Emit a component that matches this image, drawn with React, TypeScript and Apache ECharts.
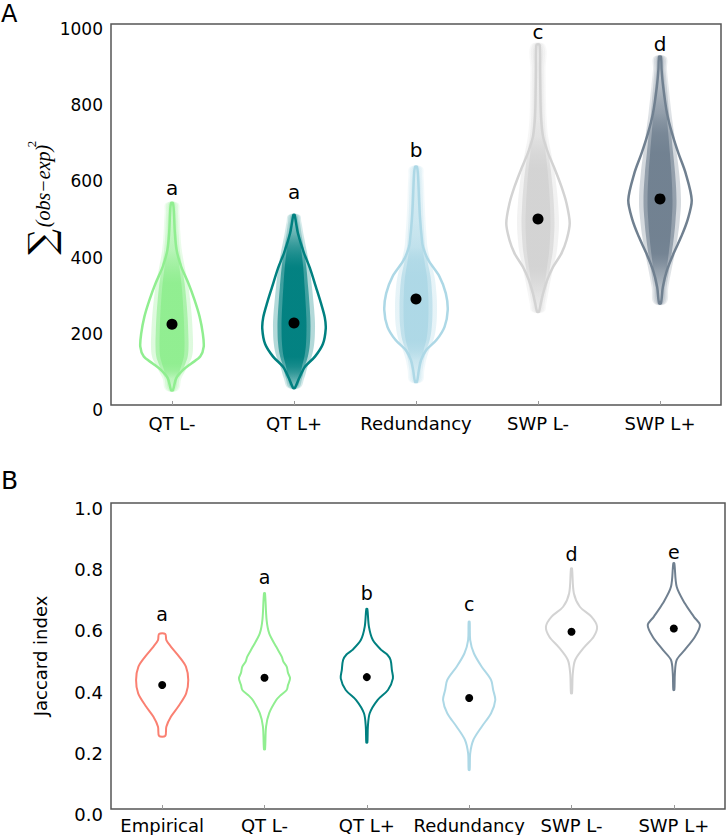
import React, { useEffect, useRef } from "react";
import * as echarts from "echarts";

// ---------- Panel A data ----------
const categoriesA = ["QT L-", "QT L+", "Redundancy", "SWP L-", "SWP L+"];
const meansA = [212, 215, 278, 488, 541];
const lettersA = ["a", "a", "b", "c", "d"];
const letterValuesA = [570, 560, 670, 979, 947];
const yTicksA = [0, 200, 400, 600, 800, 1000];

// [value, relative density (1 = widest)]
const violinA_QTLminus = [
  [39, 0.03], [70, 0.13], [92, 0.35], [109, 0.61], [127, 0.89], [153, 1.0],
  [188, 0.97], [232, 0.87], [276, 0.71], [319, 0.52], [363, 0.29], [407, 0.145],
  [451, 0.09], [504, 0.06], [530, 0.03],
];
const violinA_QTLplus = [
  [45, 0.03], [70, 0.16], [100, 0.34], [127, 0.66], [160, 0.91], [200, 1.0],
  [230, 0.97], [270, 0.84], [310, 0.69], [360, 0.5], [400, 0.31], [450, 0.125],
  [480, 0.06], [499, 0.02],
];
const violinA_Redundancy = [
  [61, 0.03], [92, 0.09], [118, 0.16], [144, 0.32], [171, 0.65], [205, 0.9],
  [249, 1.0], [293, 0.94], [337, 0.74], [380, 0.39], [415, 0.22], [440, 0.18],
  [486, 0.13], [530, 0.1], [600, 0.065], [625, 0.03],
];
const violinA_SWPLminus = [
  [245, 0.03], [268, 0.09], [293, 0.16], [328, 0.29], [363, 0.48], [398, 0.74],
  [433, 0.9], [477, 1.0], [529, 0.9], [573, 0.74], [617, 0.54], [661, 0.32],
  [704, 0.16], [748, 0.1], [792, 0.08], [879, 0.065], [945, 0.05],
];
const violinA_SWPLplus = [
  [267, 0.03], [310, 0.09], [354, 0.22], [398, 0.43], [442, 0.67], [486, 0.87],
  [538, 1.0], [608, 0.81], [661, 0.58], [713, 0.38], [766, 0.22], [835, 0.1],
  [880, 0.05], [914, 0.03],
];
const violinsA = [violinA_QTLminus, violinA_QTLplus, violinA_Redundancy, violinA_SWPLminus, violinA_SWPLplus];

// ---------- Panel B data ----------
const categoriesB = ["Empirical", "QT L-", "QT L+", "Redundancy", "SWP L-", "SWP L+"];
const meansB = [0.405, 0.429, 0.431, 0.363, 0.579, 0.59];
const lettersB = ["a", "a", "b", "c", "d", "e"];
const letterValuesB = [0.637, 0.757, 0.707, 0.669, 0.832, 0.841];
const yTicksB = [0, 0.2, 0.4, 0.6, 0.8, 1.0];

const violinB_Empirical = [
  [0.2386, 0.12], [0.269, 0.16], [0.302, 0.34], [0.334, 0.61], [0.378, 0.92], [0.4216, 1.0],
  [0.465, 0.91], [0.498, 0.65], [0.53, 0.34], [0.552, 0.16], [0.572, 0.12],
];
const violinB_QTLminus = [
  [0.195, 0.02], [0.269, 0.06], [0.313, 0.18], [0.356, 0.45], [0.372, 0.62], [0.389, 0.85],
  [0.405, 0.9], [0.427, 0.98], [0.445, 0.9], [0.465, 0.85], [0.482, 0.72], [0.498, 0.66],
  [0.53, 0.45], [0.574, 0.18], [0.618, 0.08], [0.705, 0.02],
];
const violinB_QTLplus = [
  [0.217, 0.02], [0.269, 0.04], [0.313, 0.11], [0.356, 0.41], [0.389, 0.81], [0.427, 1.0],
  [0.454, 0.96], [0.487, 0.91], [0.505, 0.78], [0.52, 0.55], [0.552, 0.23], [0.596, 0.08],
  [0.654, 0.02],
];
const violinB_Redundancy = [
  [0.1275, 0.02], [0.182, 0.04], [0.2255, 0.16], [0.269, 0.48], [0.313, 0.84], [0.356, 1.0],
  [0.389, 0.92], [0.4216, 0.84], [0.465, 0.48], [0.509, 0.18], [0.552, 0.04], [0.612, 0.02],
];
const violinB_SWPLminus = [
  [0.378, 0.02], [0.443, 0.05], [0.487, 0.14], [0.53, 0.5], [0.563, 0.85], [0.596, 0.98],
  [0.628, 0.77], [0.661, 0.32], [0.705, 0.09], [0.786, 0.02],
];
const violinB_SWPLplus = [
  [0.389, 0.02], [0.443, 0.04], [0.487, 0.11], [0.52, 0.42], [0.563, 0.81], [0.601, 1.0],
  [0.628, 0.77], [0.672, 0.42], [0.726, 0.11], [0.803, 0.02],
];
const violinsB = [violinB_Empirical, violinB_QTLminus, violinB_QTLplus, violinB_Redundancy, violinB_SWPLminus, violinB_SWPLplus];

// ---------- styles ----------
const colorsA = ["#90EE90", "#008080", "#ADD8E6", "#D3D3D3", "#708090"];
const colorsB = ["#FA8072", "#90EE90", "#008080", "#ADD8E6", "#D3D3D3", "#708090"];
const FONT = "DejaVu Sans";

function hexToRgb(hex: string) {
  const n = parseInt(hex.slice(1), 16);
  return [(n >> 16) & 255, (n >> 8) & 255, n & 255];
}

function outlineRender(profiles: number[][][], colors: string[], frac: number, lw: number) {
  return (params: any, api: any) => {
    const i = api.value(0);
    const prof = profiles[i];
    const band = api.size([1, 0])[0];
    const maxHW = band * frac;
    const left: number[][] = [];
    const right: number[][] = [];
    for (const [v, d] of prof) {
      const p = api.coord([i, v]);
      left.push([p[0] - d * maxHW, p[1]]);
      right.push([p[0] + d * maxHW, p[1]]);
    }
    return {
      type: "polygon",
      shape: { points: left.concat(right.reverse()), smooth: 0.3 },
      style: { fill: "none", stroke: colors[i], lineWidth: lw },
      z2: 5,
    };
  };
}

// dense jitter cloud of the individual runs, drawn as soft stacked layers
function cloudRender(profiles: number[][][], colors: string[]) {
  return (params: any, api: any) => {
    const i = api.value(0);
    const prof = profiles[i];
    const [r, g, b] = hexToRgb(colors[i]);
    const layer = (base: number, span: number, amax: number, gain: number, z2: number) => {
      const left: number[][] = [];
      const right: number[][] = [];
      const ys: number[] = [];
      for (const [v, d] of prof) {
        const p = api.coord([i, v]);
        const hw = base + span * Math.sqrt(d);
        left.push([p[0] - hw, p[1]]);
        right.push([p[0] + hw, p[1]]);
        ys.push(p[1]);
      }
      const yBottom = ys[0];
      const yTop = ys[ys.length - 1];
      const stops = prof
        .map(([v, d], k) => ({
          offset: (ys[k] - yTop) / (yBottom - yTop),
          color: `rgba(${r},${g},${b},${Math.min(amax, 0.12 + d * gain)})`,
        }))
        .sort((a, c) => a.offset - c.offset);
      return {
        type: "polygon",
        shape: { points: left.concat(right.reverse()), smooth: 0.4 },
        style: { fill: new echarts.graphic.LinearGradient(0, yTop, 0, yBottom, stops, true), stroke: "none" },
        z2,
      };
    };
    return {
      type: "group",
      children: [
        layer(3, 18, 0.3, 0.5, 1),
        layer(2.5, 14, 0.65, 1.1, 2),
        layer(1.5, 11, 0.95, 1.8, 3),
      ],
    };
  };
}

function letterRender(letters: string[], values: number[], size: number) {
  return (params: any, api: any) => {
    const i = api.value(0);
    const p = api.coord([i, values[i]]);
    return {
      type: "text",
      x: p[0],
      y: p[1],
      style: { text: letters[i], fontSize: size, fontFamily: FONT, fill: "#000", align: "center", verticalAlign: "middle" },
    };
  };
}

export default function App() {
  const ref = useRef<HTMLDivElement>(null);
  useEffect(() => {
    document.body.style.margin = "0";
    const chart = echarts.init(ref.current!, null, { renderer: "svg" });
    const idxA = categoriesA.map((c, i) => [i, meansA[i]]);
    const idxB = categoriesB.map((c, i) => [i, meansB[i]]);
    const option: any = {
      animation: false,
      backgroundColor: "#fff",
      textStyle: { fontFamily: FONT },
      grid: [
        { left: 111, top: 24, width: 610, height: 381, show: true, borderColor: "#555", borderWidth: 1.5, backgroundColor: "transparent" },
        { left: 111, top: 503, width: 614, height: 306, show: true, borderColor: "#555", borderWidth: 1.5, backgroundColor: "transparent" },
      ],
      xAxis: [
        {
          type: "category", gridIndex: 0, data: categoriesA, boundaryGap: true,
          axisLine: { show: false },
          axisTick: { show: true, inside: true, length: 4, alignWithLabel: true, lineStyle: { color: "#999" } },
          axisLabel: { interval: 0, fontSize: 18, color: "#000", margin: 9, fontFamily: FONT },
          splitLine: { show: false },
        },
        {
          type: "category", gridIndex: 1, data: categoriesB, boundaryGap: true,
          axisLine: { show: false },
          axisTick: { show: true, inside: true, length: 4, alignWithLabel: true, lineStyle: { color: "#999" } },
          axisLabel: { interval: 0, fontSize: 18, color: "#000", margin: 7, fontFamily: FONT },
          splitLine: { show: false },
        },
      ],
      yAxis: [
        {
          type: "value", gridIndex: 0, min: 0, max: 1000, interval: 200,
          axisLine: { show: false }, axisTick: { show: false }, splitLine: { show: false },
          axisLabel: {
            margin: 8,
            formatter: (v: number) => (yTicksA.includes(v) ? `{t|${v}}` : ""),
            rich: { t: { fontSize: 17, color: "#000", fontFamily: FONT, padding: [10, 0, 0, 0] } },
          },
        },
        {
          type: "value", gridIndex: 1, min: 0, max: 1, interval: 0.2,
          axisLine: { show: false }, axisTick: { show: false }, splitLine: { show: false },
          axisLabel: {
            margin: 8,
            formatter: (v: number) => `{t|${yTicksB.reduce((a, c) => (Math.abs(c - v) < Math.abs(a - v) ? c : a)).toFixed(1)}}`,
            rich: { t: { fontSize: 18, color: "#000", fontFamily: FONT, padding: [11, 0, 0, 0] } },
          },
          name: "Jaccard index", nameLocation: "middle", nameGap: 62,
          nameTextStyle: { fontSize: 18, color: "#000", fontFamily: FONT },
        },
      ],
      graphic: [
        { type: "text", left: 1, top: 2, style: { text: "A", fontSize: 24, fill: "#000", fontFamily: FONT } },
        { type: "text", left: 1, top: 468, style: { text: "B", fontSize: 25, fill: "#000", fontFamily: FONT } },
        {
          type: "group", x: 43, y: 200, rotation: Math.PI / 2,
          children: [
            { type: "text", x: -42, y: -2, style: { text: "∑", fontSize: 36, fontFamily: "DejaVu Serif", fill: "#000", align: "center", verticalAlign: "middle" } },
            { type: "text", x: 14, y: 0, style: { text: "(obs−exp)", fontSize: 20, fontStyle: "italic", fontFamily: "Liberation Serif", fill: "#000", align: "center", verticalAlign: "middle" } },
            { type: "text", x: 56, y: -12, style: { text: "2", fontSize: 13, fontFamily: "Liberation Serif", fill: "#000", align: "center", verticalAlign: "middle" } },
          ],
        },
      ],
      series: [
        { type: "custom", xAxisIndex: 0, yAxisIndex: 0, data: idxA, encode: { x: 0, y: 1 }, renderItem: cloudRender(violinsA, colorsA), silent: true, z: 1 },
        { type: "custom", xAxisIndex: 0, yAxisIndex: 0, data: idxA, encode: { x: 0, y: 1 }, renderItem: outlineRender(violinsA, colorsA, 0.26, 2.5), silent: true, z: 2 },
        { type: "scatter", xAxisIndex: 0, yAxisIndex: 0, data: idxA, symbolSize: 11, itemStyle: { color: "#000", opacity: 1 }, z: 4, silent: true },
        { type: "custom", xAxisIndex: 0, yAxisIndex: 0, data: idxA, encode: { x: 0, y: 1 }, renderItem: letterRender(lettersA, letterValuesA, 20), silent: true, z: 5 },

        { type: "custom", xAxisIndex: 1, yAxisIndex: 1, data: idxB, encode: { x: 0, y: 1 }, renderItem: outlineRender(violinsB, colorsB, 0.255, 2), silent: true, z: 2 },
        { type: "scatter", xAxisIndex: 1, yAxisIndex: 1, data: idxB, symbolSize: 8, itemStyle: { color: "#000", opacity: 1 }, z: 4, silent: true },
        { type: "custom", xAxisIndex: 1, yAxisIndex: 1, data: idxB, encode: { x: 0, y: 1 }, renderItem: letterRender(lettersB, letterValuesB, 19), silent: true, z: 5 },
      ],
    };
    chart.setOption(option);
    return () => chart.dispose();
  }, []);
  return <div ref={ref} style={{ width: 727, height: 835 }} />;
}
